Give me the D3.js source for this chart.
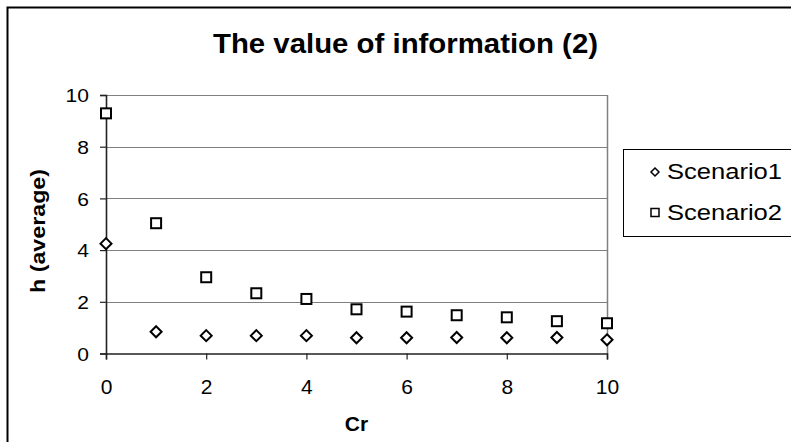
<!DOCTYPE html>
<html><head><meta charset="utf-8">
<script src="https://cdn.jsdelivr.net/npm/d3@7"></script>
<style>html,body{margin:0;padding:0;background:#fff;}svg{display:block;}</style>
</head><body>
<svg id="c" width="791" height="442"></svg>
<script>
const crValues = [0,1,2,3,4,5,6,7,8,9,10];
const scenario1 = [4.25,0.84,0.69,0.69,0.69,0.61,0.61,0.62,0.61,0.62,0.53];
const scenario2 = [9.29,5.04,2.95,2.33,2.11,1.71,1.62,1.48,1.40,1.25,1.17];
const seriesNames = ["Scenario1","Scenario2"];
const xTicks = [0,2,4,6,8,10];
const yTicks = [0,2,4,6,8,10];
const titleText = "The value of information (2)";
const xTitle = "Cr";
const yTitle = "h (average)";

const svg = d3.select("#c");
const font = "Arial, 'Liberation Sans', sans-serif";
const L = 106, R = 607, T = 95, B = 353.5;
const x = d3.scaleLinear().domain([0,10]).range([L,R]);
const y = d3.scaleLinear().domain([0,10]).range([B,T]);

svg.append("rect").attr("width",791).attr("height",442).attr("fill","#fff");
// outer chart border
svg.append("rect").attr("x",7.5).attr("y",7.5).attr("width",800).attr("height",500)
  .attr("fill","none").attr("stroke","#000").attr("stroke-width",2);

// gridlines
svg.append("g").selectAll("line").data(yTicks.filter(d=>d>0)).join("line")
  .attr("x1",L).attr("x2",R).attr("y1",d=>Math.round(y(d))+0.5).attr("y2",d=>Math.round(y(d))+0.5)
  .attr("stroke","#808080").attr("stroke-width",1);
// right border
svg.append("line").attr("x1",R+0.5).attr("x2",R+0.5).attr("y1",T).attr("y2",B)
  .attr("stroke","#808080").attr("stroke-width",1.5);

// axes
const yAxis = svg.append("g").attr("transform",`translate(${L},0)`)
  .call(d3.axisLeft(y).tickValues(yTicks).tickSize(6).tickPadding(11).tickFormat(d3.format("d")));
const xAxis = svg.append("g").attr("transform",`translate(0,${B})`)
  .call(d3.axisBottom(x).tickValues(xTicks).tickSize(6).tickPadding(18).tickFormat(d3.format("d")));
[yAxis,xAxis].forEach(a=>{
  a.select(".domain").attr("stroke","#222").attr("stroke-width",1.6);
  a.selectAll(".tick line").attr("stroke","#222").attr("stroke-width",1.2);
  a.selectAll(".tick text").attr("font-family",font).attr("fill","#000");
});
yAxis.selectAll(".tick text").attr("font-size",19).attr("dy","0.35em")
  .attr("textLength",d=>String(d).length*11.7).attr("lengthAdjust","spacingAndGlyphs");
xAxis.selectAll(".tick text").attr("font-size",21).attr("dy","0.8em");

// title
svg.append("text").attr("x",405.5).attr("y",53).attr("text-anchor","middle")
  .attr("font-family",font).attr("font-weight","bold").attr("font-size",28)
  .attr("textLength",385).attr("lengthAdjust","spacingAndGlyphs").text(titleText);
// axis titles
svg.append("text").attr("x",(L+R)/2).attr("y",431).attr("text-anchor","middle")
  .attr("font-family",font).attr("font-weight","bold").attr("font-size",21).text(xTitle);
svg.append("text").attr("transform","translate(45,231) rotate(-90)").attr("text-anchor","middle")
  .attr("font-family",font).attr("font-weight","bold").attr("font-size",21)
  .attr("textLength",124).attr("lengthAdjust","spacingAndGlyphs").text(yTitle);

// markers
const diamond = s => `M0,${-s}L${s},0L0,${s}L${-s},0Z`;
svg.append("g").selectAll("path").data(crValues.map((c,i)=>[c,scenario1[i]])).join("path")
  .attr("transform",d=>`translate(${x(d[0])},${y(d[1])})`)
  .attr("d",diamond(5.5)).attr("fill","#fff").attr("stroke","#000").attr("stroke-width",2);
svg.append("g").selectAll("rect").data(crValues.map((c,i)=>[c,scenario2[i]])).join("rect")
  .attr("x",d=>x(d[0])-5).attr("y",d=>y(d[1])-5).attr("width",10).attr("height",10)
  .attr("fill","#fff").attr("stroke","#000").attr("stroke-width",2);

// legend
svg.append("rect").attr("x",623.5).attr("y",149.5).attr("width",200).attr("height",87)
  .attr("fill","#fff").attr("stroke","#000").attr("stroke-width",1);
const lg = svg.append("g");
seriesNames.forEach((name,i)=>{
  const cy = 172 + i*40;
  if(i===0){
    lg.append("path").attr("transform",`translate(655,${cy})`).attr("d",diamond(4))
      .attr("fill","#fff").attr("stroke","#000").attr("stroke-width",1.5);
  } else {
    lg.append("rect").attr("x",651).attr("y",cy-3.5).attr("width",8).attr("height",8)
      .attr("fill","#fff").attr("stroke","#000").attr("stroke-width",1.5);
  }
  lg.append("text").attr("x",667).attr("y",cy+7+(i?1:0)).attr("font-family",font).attr("font-size",22)
    .attr("textLength",115).attr("lengthAdjust","spacingAndGlyphs").text(name);
});
</script>
</body></html>
